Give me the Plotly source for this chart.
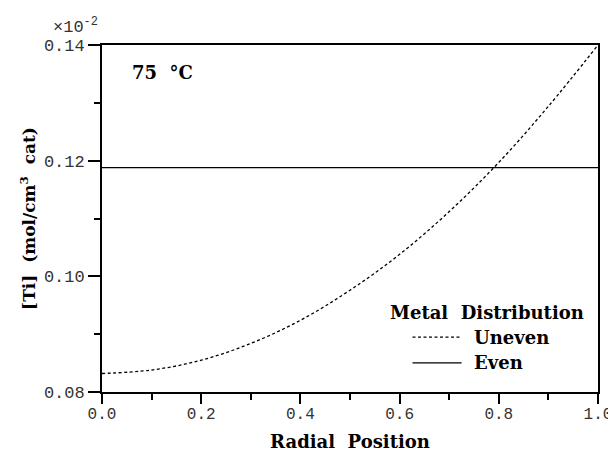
import plotly.graph_objects as go

radial_position = [0.0, 0.1, 0.2, 0.3, 0.4, 0.5, 0.6, 0.7, 0.8, 0.9, 1.0]
ti_uneven = [0.0832, 0.0838, 0.0855, 0.0884, 0.0924, 0.0976, 0.1038, 0.1112, 0.1197, 0.1294, 0.1400]
even_x = [0.0, 1.0]
ti_even = [0.1188, 0.1188]

x_ticks = [0.0, 0.2, 0.4, 0.6, 0.8, 1.0]
x_tick_labels = ["0.0", "0.2", "0.4", "0.6", "0.8", "1.0"]
y_ticks = [0.08, 0.10, 0.12, 0.14]
y_tick_labels = ["0.08", "0.10", "0.12", "0.14"]

serif = "DejaVu Serif"
mono = "Liberation Mono"
uneven_dash = "3px,2.5px"

fig = go.Figure()
fig.add_trace(go.Scatter(
    x=radial_position, y=ti_uneven, mode="lines", name="Uneven",
    line=dict(color="black", width=1.3, dash=uneven_dash, shape="spline"),
))
fig.add_trace(go.Scatter(
    x=even_x, y=ti_even, mode="lines", name="Even",
    line=dict(color="black", width=1.3),
))

# legend drawn manually (sample lines + labels)
leg_x0, leg_x1, leg_tx = 0.626, 0.725, 0.745
leg_rows = [("Uneven", 0.158, uneven_dash), ("Even", 0.084, "solid")]
shapes = []
annotations = []
for label, yy, dash in leg_rows:
    shapes.append(dict(type="line", xref="paper", yref="paper", x0=leg_x0, x1=leg_x1, y0=yy, y1=yy,
                       line=dict(color="black", width=1.3, dash=dash)))
    annotations.append(dict(text="<b>" + label + "</b>", x=leg_tx, y=yy, xref="paper", yref="paper",
                            xanchor="left", yanchor="middle", showarrow=False,
                            font=dict(family=serif, size=18, color="black")))

annotations += [
    dict(text="<b>Metal  Distribution</b>", x=0.975, y=0.228, xref="paper", yref="paper",
         xanchor="right", yanchor="middle", showarrow=False,
         font=dict(family=serif, size=18, color="black")),
    dict(text="<b>75  °C</b>", x=0.056, y=0.92, xref="paper", yref="paper",
         xanchor="left", yanchor="middle", showarrow=False,
         font=dict(family=serif, size=18, color="black")),
    dict(text="×10<sup>-2</sup>", x=-0.004, y=1.055, xref="paper", yref="paper",
         xanchor="right", yanchor="middle", showarrow=False,
         font=dict(family=mono, size=17, color="#333")),
]

# the page body adds an 8px margin, so the figure is 8px smaller than the window
fig.update_layout(
    width=608, height=451,
    margin=dict(l=94, r=18, t=37, b=67, autoexpand=False),
    paper_bgcolor="white", plot_bgcolor="white",
    showlegend=False,
    shapes=shapes,
    annotations=annotations,
    xaxis=dict(
        range=[0, 1], tickvals=x_ticks, ticktext=x_tick_labels,
        ticks="outside", ticklen=10, tickwidth=1.5, tickcolor="black",
        minor=dict(dtick=0.1, ticks="outside", ticklen=6, tickwidth=1.5, tickcolor="black"),
        showline=True, linecolor="black", linewidth=1.8, mirror=True,
        showgrid=False, zeroline=False, automargin=False,
        ticklabelstandoff=-4,
        tickfont=dict(family=mono, size=16, color="#333"),
        title=dict(text="<b>Radial  Position</b>", font=dict(family=serif, size=18, color="black"), standoff=12),
    ),
    yaxis=dict(
        range=[0.08, 0.14], tickvals=y_ticks, ticktext=y_tick_labels,
        ticks="outside", ticklen=12, tickwidth=1.5, tickcolor="black",
        minor=dict(dtick=0.01, ticks="outside", ticklen=6, tickwidth=1.5, tickcolor="black"),
        showline=True, linecolor="black", linewidth=1.8, mirror=True,
        showgrid=False, zeroline=False, automargin=False,
        tickfont=dict(family=mono, size=17, color="#333"),
        title=dict(text="<b>[Ti]  (mol/cm<sup>3</sup>  cat)</b>", font=dict(family=serif, size=17, color="black"), standoff=4),
    ),
)

fig.write_html("out.html")
